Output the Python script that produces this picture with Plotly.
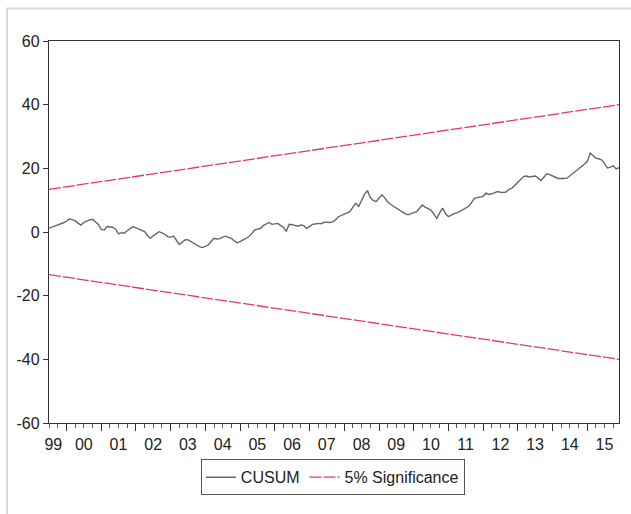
import pandas as pd
import plotly.graph_objects as go

# Recursive-residual CUSUM, monthly, Jul 1999 - Dec 2015
start_month = "1999-07-01"
cusum = [
    1.2, 1.5, 2.0, 2.3, 2.6, 2.9, 3.4, 4.1, 3.9, 3.5, 2.8, 2.2,
    3.0, 3.5, 3.8, 4.0, 3.2, 2.4, 0.8, 0.6, 1.7, 1.6, 1.5, 0.9,
    -0.6, -0.2, -0.4, 0.4, 1.0, 1.7, 1.3, 0.9, 0.5, 0.1, -1.0, -2.0,
    -1.2, -0.4, 0.1, -0.3, -0.7, -1.5, -1.6, -1.3, -2.6, -3.9, -3.2, -2.5,
    -2.4, -3.0, -3.6, -3.9, -4.6, -4.9, -4.4, -4.1, -3.0, -2.0, -2.2, -2.1,
    -1.6, -1.3, -1.7, -2.0, -2.8, -3.4, -3.0, -2.5, -2.1, -1.5, -0.6, 0.6,
    0.9, 1.1, 2.0, 2.6, 3.0, 2.4, 2.5, 2.7, 2.1, 1.5, 0.3, 2.4,
    2.3, 2.1, 1.8, 2.2, 2.0, 1.1, 1.8, 2.4, 2.5, 2.7, 2.6, 3.0,
    3.1, 3.0, 3.2, 3.8, 4.8, 5.2, 5.8, 6.1, 6.4, 7.8, 9.0, 8.0,
    9.8, 11.8, 13.0, 10.8, 9.9, 9.5, 10.6, 11.7, 10.8, 9.5, 8.7, 8.1,
    7.5, 6.9, 6.3, 5.8, 5.4, 5.8, 6.1, 6.4, 7.4, 8.5, 7.8, 7.2,
    6.9, 5.6, 4.3, 6.0, 7.5, 5.8, 4.8, 5.3, 5.8, 6.0, 6.5, 6.9,
    7.4, 8.0, 9.2, 10.6, 10.8, 11.0, 11.2, 12.2, 11.8, 12.0, 12.4, 12.7,
    12.5, 12.4, 12.6, 13.4, 13.8, 14.8, 15.8, 16.6, 17.4, 17.6, 17.3, 17.4,
    17.6, 17.0, 16.2, 17.2, 18.3, 18.0, 17.7, 17.2, 16.8, 16.7, 16.8, 16.9,
    17.6, 18.3, 19.0, 19.6, 20.6, 21.3, 22.1, 24.8, 24.0, 23.2, 23.0, 22.7,
    21.5, 20.1, 20.4, 20.8, 19.8, 20.2,
]
dates = pd.date_range(start_month, periods=len(cusum), freq="MS")

# 5% significance band end points (first and last observation)
band_upper = [13.4, 40.0]
band_lower = [-13.4, -40.0]
band_dates = [dates[0], dates[-1]]

year_labels = ["99", "00", "01", "02", "03", "04", "05", "06", "07",
               "08", "09", "10", "11", "12", "13", "14", "15"]
label_pos = ["1999-08-15"] + [f"{y}-07-01" for y in range(2000, 2016)]
year_ticks = [f"{y}-01-01" for y in range(2000, 2016)]

y_ticks = [60, 40, 20, 0, -20, -40, -60]
y_text = ["60", "40", "20", "0", "-20", "-40", "-60"]

FONT = "Arial, Liberation Sans, sans-serif"
BAND_COLOR = "#e8356f"
TXT = "#222222"

fig = go.Figure()
fig.add_trace(go.Scatter(
    x=dates, y=cusum, mode="lines", name="CUSUM",
    line=dict(color="#666666", width=1.4),
))
fig.add_trace(go.Scatter(
    x=band_dates, y=band_upper, mode="lines", name="5% Significance",
    legendgroup="sig", xaxis="x2",
    line=dict(color=BAND_COLOR, width=1.3, dash="12px,2px"),
))
fig.add_trace(go.Scatter(
    x=band_dates, y=band_lower, mode="lines", name="5% Significance",
    legendgroup="sig", showlegend=False, xaxis="x2",
    line=dict(color=BAND_COLOR, width=1.3, dash="12px,2px"),
))

range_x = [dates[0], dates[-1]]

fig.update_layout(
    width=631, height=514,
    margin=dict(l=49, r=12, t=41, b=91),
    paper_bgcolor="white", plot_bgcolor="white",
    font=dict(family=FONT, size=16, color=TXT),
    xaxis=dict(
        type="date", range=range_x,
        tickvals=year_ticks, showticklabels=False,
        ticks="outside", ticklen=7, tickwidth=1, tickcolor="#333333",
        minor=dict(ticks="outside", ticklen=4, tick0="2000-01-01",
                   dtick="M3", tickcolor="#555555", tickwidth=1),
        showline=True, linecolor="#333333", linewidth=1.4, mirror=True,
        showgrid=False, zeroline=False,
    ),
    xaxis2=dict(
        type="date", matches="x", overlaying="x", anchor="y", side="bottom",
        tickvals=label_pos, ticktext=year_labels,
        ticks="outside", ticklen=7, tickcolor="rgba(0,0,0,0)",
        showline=False, showgrid=False, zeroline=False,
        tickfont=dict(family=FONT, size=16, color=TXT),
    ),
    yaxis=dict(
        range=[-60, 60], tickvals=y_ticks, ticktext=y_text,
        ticks="outside", ticklen=5, tickcolor="#333333",
        showline=True, linecolor="#333333", linewidth=1.4, mirror=True,
        showgrid=False, zeroline=False,
        tickfont=dict(family=FONT, size=16, color=TXT),
    ),
    legend=dict(
        orientation="h", x=0.498, xanchor="center", y=-0.095, yanchor="top",
        bordercolor="#555555", borderwidth=1, bgcolor="white",
        font=dict(family=FONT, size=16, color=TXT),
        itemwidth=30,
    ),
    showlegend=True,
)

# light outer frame of the graph window
fig.add_shape(
    type="path", xref="paper", yref="paper",
    path="M -0.0737,-0.24 L -0.0737,1.0853 L 1.03,1.0853",
    line=dict(color="#d8d8d8", width=2),
)

fig.write_html("out.html")
